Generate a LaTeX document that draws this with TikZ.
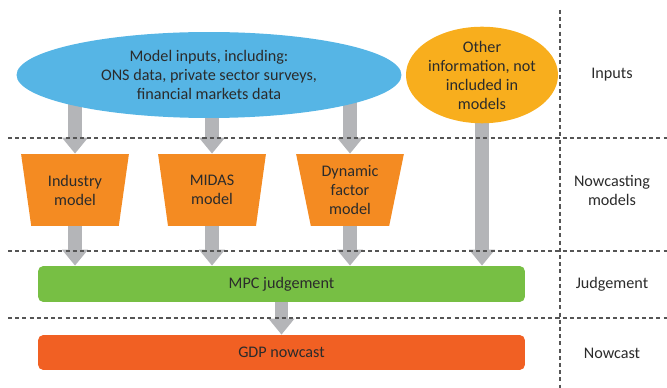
\documentclass[tikz,border=0pt]{standalone}
\usepackage{fontspec}
\setmainfont{Carlito}
\usepackage{tikz}
\usetikzlibrary{arrows.meta,positioning,shapes.geometric,backgrounds}
\definecolor{inblue}{HTML}{56B5E5}
\definecolor{ingold}{HTML}{F8AE1D}
\definecolor{modorange}{HTML}{F48B22}
\definecolor{judgegreen}{HTML}{77BF44}
\definecolor{gdpred}{HTML}{F16023}
\definecolor{flowgray}{HTML}{B4B5B8}
\definecolor{sepgray}{HTML}{555555}
\definecolor{txt}{HTML}{2B2B2B}

\begin{document}
\begin{tikzpicture}[x=0.02cm,y=-0.02cm,font=\fontsize{9.2}{10.8}\selectfont,text=txt,
    blob/.style={ellipse,inner sep=0pt,align=center},
    model/.style={trapezium,trapezium angle=74,trapezium stretches=true,shape border rotate=180,
        fill=modorange,minimum width=2.16cm,minimum height=1.44cm,inner sep=0pt,text width=1.5cm,align=center},
    bar/.style={rounded corners=3pt,minimum width=9.74cm,inner sep=0pt},
    flow/.style={draw=flowgray,line width=0.27cm,-{Triangle[width=0.5cm,length=0.32cm]}},
    sep/.style={draw=sepgray,line width=0.6pt,dash pattern=on 2.3pt off 1.8pt}]
    \useasboundingbox (0,0) rectangle (667,388);
    \draw[sep] (8,138) -- (667,138);
    \draw[sep] (8,251) -- (667,251);
    \draw[sep] (8,318) -- (667,318);
    \draw[sep] (560,10) -- (560,388);
    \node[blob,fill=inblue,minimum width=7.7cm,minimum height=1.72cm] (inputs) at (209,75)
        {Model inputs, including:\\ONS data, private sector surveys,\\financial markets data};
    \node[blob,fill=ingold,minimum width=2.64cm,minimum height=1.8cm] (other) at (482,75)
        {Other\\information, not\\included in\\models};
    \node[model] (industry) at (75,190) {Industry\\model};
    \node[model] (midas) at (212,190) {MIDAS\\model};
    \node[model] (dynamic) at (350,190) {Dynamic\\factor\\model};
    \node[bar,fill=judgegreen,minimum height=0.72cm] (judge) at (281.5,284) {MPC judgement};
    \node[bar,fill=gdpred,minimum height=0.7cm] (nowcast) at (281.5,352.5) {GDP nowcast};
    \node (lin) at (612,75) {Inputs};
    \node[align=center] (lmod) at (612,190) {Nowcasting\\models};
    \node (ljudge) at (612,284) {Judgement};
    \node (lnow) at (612,353) {Nowcast};
    \begin{scope}[on background layer]
        \draw[flow] (industry.north |- inputs.center) -- (industry.north);
        \draw[flow] (midas.north |- inputs.center) -- (midas.north);
        \draw[flow] (dynamic.north |- inputs.center) -- (dynamic.north);
        \draw[flow] (industry.south) -- (industry.south |- judge.north);
        \draw[flow] (midas.south) -- (midas.south |- judge.north);
        \draw[flow] (dynamic.south) -- (dynamic.south |- judge.north);
        \draw[flow] (other.center) -- (other.center |- judge.north);
        \draw[flow] (judge.center) -- (nowcast.north);
    \end{scope}
\end{tikzpicture}
\end{document}
